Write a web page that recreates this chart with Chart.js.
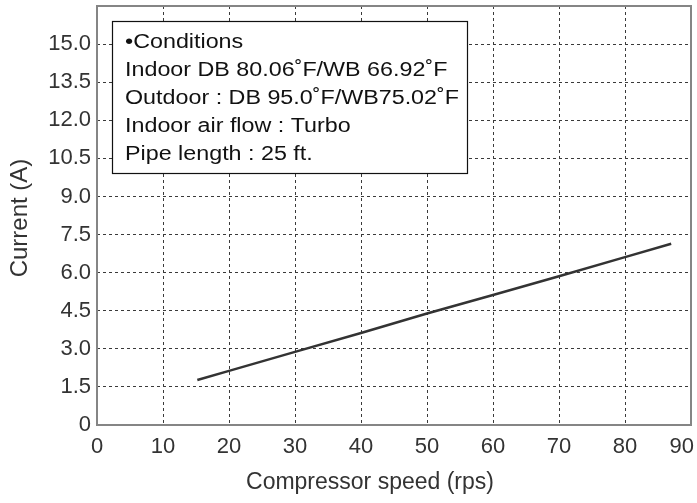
<!DOCTYPE html>
<html lang="en">
<head>
  <meta charset="UTF-8" />
  <title>Current vs compressor speed</title>
  <script src="https://cdn.jsdelivr.net/npm/chart.js"></script>
  <style>
    html, body { margin: 0; padding: 0; background: #fff; }
    #wrap { width: 697px; height: 503px; }
  </style>
</head>
<body>
  <div id="wrap"><canvas id="chart" width="697" height="503"></canvas></div>

  <script>
  // values
  const speedRps = [15.2, 20, 30, 40, 50, 60, 70, 80, 87];
  const currentA = [1.77, 2.13, 2.88, 3.62, 4.39, 5.12, 5.86, 6.61, 7.14];

  const xRange = [0, 90];
  const xStep = 10;
  const yRange = [0, 16.5];
  const yStep = 1.5;

  const noteLines = [
    "\u2022Conditions",
    "Indoor DB 80.06\u02DAF/WB 66.92\u02DAF",
    "Outdoor : DB 95.0\u02DAF/WB75.02\u02DAF",
    "Indoor air flow : Turbo",
    "Pipe length : 25 ft."
  ];

  const xTitle = "Compressor speed (rps)";
  const yTitle = "Current (A)";

  const FONT = '"Liberation Sans", Arial, sans-serif';
  const gridColor = '#3a3a3a';
  const frameColor = '#858585';
  const textColor = '#333';

  // grey frame round the plot area
  const framePlugin = {
    id: 'frame',
    beforeDatasetsDraw(chart) {
      const a = chart.chartArea, c = chart.ctx;
      c.save();
      c.strokeStyle = frameColor;
      c.lineWidth = 2;
      c.strokeRect(a.left, a.top, a.right - a.left, a.bottom - a.top);
      c.restore();
    }
  };

  // axis titles and the conditions box
  const textPlugin = {
    id: 'texts',
    afterDraw(chart) {
      const c = chart.ctx;
      c.save();
      c.fillStyle = textColor;
      c.font = '23px ' + FONT;
      c.textAlign = 'center';
      c.textBaseline = 'middle';
      c.fillText(xTitle, 370, 483);
      c.translate(20, 218);
      c.rotate(-Math.PI / 2);
      c.font = '24px ' + FONT;
      c.fillText(yTitle, 0, 0);
      c.restore();

      c.save();
      c.fillStyle = '#fff';
      c.fillRect(112, 21, 356, 153);
      c.strokeStyle = '#111';
      c.lineWidth = 1.2;
      c.strokeRect(112.5, 21.5, 355, 152);
      c.font = '20px ' + FONT;
      c.fillStyle = '#111';
      c.textAlign = 'left';
      c.textBaseline = 'alphabetic';
      const widest = Math.max(...noteLines.map(s => c.measureText(s).width));
      const sx = 334 / widest;
      c.translate(125, 0);
      c.scale(sx, 1);
      noteLines.forEach((s, i) => c.fillText(s, 0, 48 + i * 28));
      c.restore();
    }
  };

  const ctx = document.getElementById('chart').getContext('2d');
  new Chart(ctx, {
    type: 'scatter',
    data: {
      datasets: [{
        data: speedRps.map((x, i) => ({ x: x, y: currentA[i] })),
        showLine: true,
        borderColor: '#333',
        borderWidth: 2.5,
        pointRadius: 0,
        tension: 0
      }]
    },
    options: {
      responsive: false,
      animation: false,
      layout: { padding: { top: 6, right: 6, left: 0, bottom: 0 } },
      plugins: { legend: { display: false }, tooltip: { enabled: false } },
      scales: {
        x: {
          type: 'linear',
          min: xRange[0], max: xRange[1],
          afterFit: s => { s.height = 78; s.paddingLeft = 0; s.paddingRight = 0; },
          ticks: {
            stepSize: xStep,
            color: textColor,
            font: { family: FONT, size: 22 },
            padding: 9,
            maxRotation: 0,
            callback: v => v === xRange[1] ? v + '\u00a0\u00a0\u00a0' : String(v)
          },
          grid: {
            drawTicks: false,
            color: c => (c.tick && (c.tick.value === xRange[0] || c.tick.value === xRange[1])) ? 'rgba(0,0,0,0)' : gridColor,
            lineWidth: 1
          },
          border: { display: false, dash: [3, 3] }
        },
        y: {
          min: yRange[0], max: yRange[1],
          afterFit: s => { s.width = 97; s.paddingTop = 0; s.paddingBottom = 0; },
          ticks: {
            stepSize: yStep,
            color: textColor,
            font: { family: FONT, size: 22 },
            padding: 6,
            callback: v => v === yRange[1] ? '' : (v === 0 ? '0' : v.toFixed(1))
          },
          grid: {
            drawTicks: false,
            color: c => (c.tick && (c.tick.value === yRange[0] || c.tick.value === yRange[1])) ? 'rgba(0,0,0,0)' : gridColor,
            lineWidth: 1
          },
          border: { display: false, dash: [3, 3] }
        }
      }
    },
    plugins: [framePlugin, textPlugin]
  });
  </script>
</body>
</html>
